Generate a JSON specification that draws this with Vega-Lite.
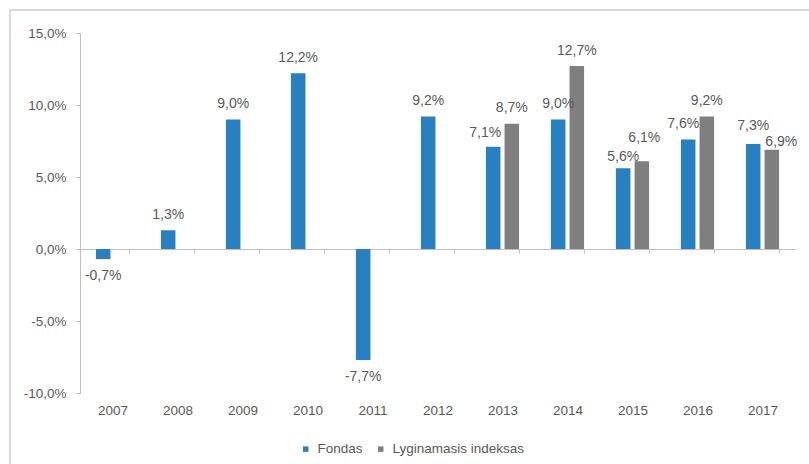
{
  "$schema": "https://vega.github.io/schema/vega-lite/v6.json",
  "width": 715,
  "height": 360,
  "autosize": {"type": "none"},
  "padding": {"left": 80, "top": 33, "right": 14, "bottom": 71},
  "background": "white",
  "config": {
    "view": {"stroke": null},
    "font": "Liberation Sans",
    "locale": {"number": {"decimal": ",", "thousands": " ", "grouping": [3], "currency": ["", " €"], "minus": "-"}}
  },
  "datasets": {
    "returns": [
      {"year": "2007", "series": "Fondas", "value": -0.007},
      {"year": "2008", "series": "Fondas", "value": 0.013},
      {"year": "2009", "series": "Fondas", "value": 0.09},
      {"year": "2010", "series": "Fondas", "value": 0.122},
      {"year": "2011", "series": "Fondas", "value": -0.077},
      {"year": "2012", "series": "Fondas", "value": 0.092},
      {"year": "2013", "series": "Fondas", "value": 0.071},
      {"year": "2014", "series": "Fondas", "value": 0.09},
      {"year": "2015", "series": "Fondas", "value": 0.056},
      {"year": "2016", "series": "Fondas", "value": 0.076},
      {"year": "2017", "series": "Fondas", "value": 0.073},
      {"year": "2013", "series": "Lyginamasis indeksas", "value": 0.087},
      {"year": "2014", "series": "Lyginamasis indeksas", "value": 0.127},
      {"year": "2015", "series": "Lyginamasis indeksas", "value": 0.061},
      {"year": "2016", "series": "Lyginamasis indeksas", "value": 0.092},
      {"year": "2017", "series": "Lyginamasis indeksas", "value": 0.069}
    ],
    "frame": [{"f": 1}]
  },
  "layer": [
    {
      "data": {"name": "frame"},
      "mark": {"type": "rect", "filled": false, "stroke": "#d9d9d9", "strokeWidth": 2, "x": -70, "y": -23, "x2": {"expr": "width + 60"}, "y2": {"expr": "height + 120"}, "clip": false},
      "encoding": {}
    },
    {
      "data": {"name": "returns"},
      "mark": {"type": "bar"},
      "encoding": {
        "x": {
          "field": "year", "type": "nominal", "sort": null,
          "scale": {"paddingInner": 0.49, "paddingOuter": 0.245},
          "axis": {
            "title": null,
            "orient": "bottom",
            "offset": {"expr": "scale('y', 0) - height"},
            "tickBand": "extent",
            "labelAngle": 0,
            "labelPadding": {"expr": "height - scale('y', 0) + 6"},
            "labelBaseline": "top",
            "labelFontSize": 13.5,
            "labelColor": "#595959",
            "domainColor": "#bfbfbf",
            "tickColor": "#bfbfbf",
            "tickSize": 4,
            "grid": false
          }
        },
        "xOffset": {"field": "series", "type": "nominal", "scale": {"paddingInner": 0.22, "paddingOuter": 0}},
        "y": {
          "field": "value", "type": "quantitative",
          "scale": {"domain": [-0.1, 0.15], "nice": false, "zero": false},
          "axis": {
            "title": null,
            "values": [-0.1, -0.05, 0, 0.05, 0.1, 0.15],
            "format": ".1%",
            "grid": false,
            "labelFontSize": 13.5,
            "labelColor": "#595959",
            "labelPadding": 10,
            "domainColor": "#bfbfbf",
            "tickColor": "#bfbfbf",
            "tickSize": 4
          }
        },
        "color": {
          "field": "series", "type": "nominal",
          "scale": {"domain": ["Fondas", "Lyginamasis indeksas"], "range": ["#2680c2", "#7f7f7f"]},
          "legend": {
            "title": null,
            "orient": "none",
            "direction": "horizontal",
            "legendX": 219,
            "legendY": 409,
            "padding": 0,
            "symbolType": "square",
            "symbolSize": 30,
            "symbolStrokeWidth": 0,
            "labelFontSize": 13.5,
            "labelColor": "#595959",
            "labelOffset": 5,
            "columnPadding": 11
          }
        }
      }
    },
    {
      "data": {"name": "returns"},
      "mark": {
        "type": "text",
        "fontSize": 14,
        "color": "#595959",
        "baseline": {"expr": "datum.value < 0 ? 'top' : 'alphabetic'"},
        "dx": {"expr": "datum.year == '2013' && datum.series == 'Fondas' ? -8 : datum.year == '2016' && datum.series == 'Fondas' ? -5 : datum.year == '2015' && datum.series != 'Fondas' ? 2.5 : datum.year == '2017' && datum.series != 'Fondas' ? 9.5 : 0"},
        "dy": {"expr": "datum.value < 0 ? 10 : datum.year == '2013' && datum.series == 'Fondas' ? -9.5 : datum.year == '2015' && datum.series == 'Fondas' ? -7 : datum.year == '2015' ? -19 : datum.year == '2017' && datum.series == 'Fondas' ? -14 : datum.year == '2017' ? -4 : -11.5"}
      },
      "encoding": {
        "x": {"field": "year", "type": "nominal", "sort": null},
        "xOffset": {"field": "series", "type": "nominal"},
        "y": {"field": "value", "type": "quantitative"},
        "text": {"field": "value", "type": "quantitative", "format": ".1%"}
      }
    }
  ]
}
